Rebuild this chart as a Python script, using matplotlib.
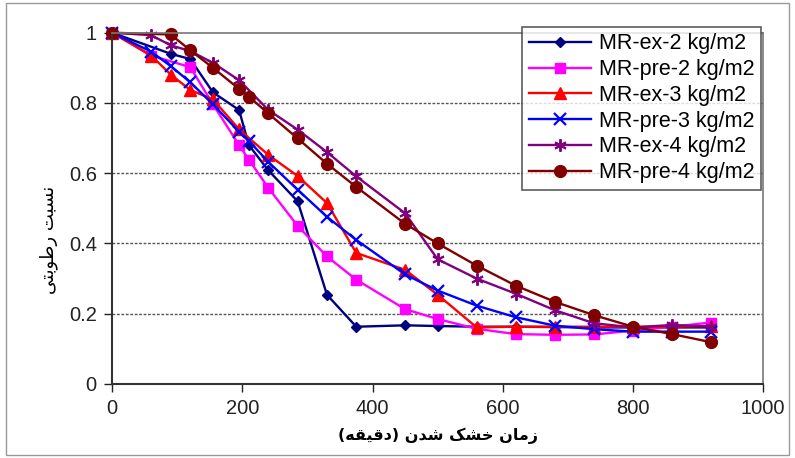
import matplotlib
matplotlib.use("Agg")
import matplotlib.pyplot as plt
from matplotlib.patches import Rectangle

# ---------------- data ----------------
t_ex2 = [0, 90, 120, 155, 195, 210, 240, 285, 330, 375, 450, 500, 560, 620, 680, 740, 800, 860, 920]
mr_ex2 = [1.0, 0.94, 0.925, 0.83, 0.78, 0.68, 0.608, 0.52, 0.254, 0.163, 0.167, 0.165, 0.163, 0.163, 0.162, 0.161, 0.161, 0.161, 0.161]

t_pre2 = [0, 60, 120, 155, 195, 210, 240, 285, 330, 375, 450, 500, 560, 620, 680, 740, 800, 860, 920]
mr_pre2 = [1.0, 0.935, 0.902, 0.796, 0.68, 0.639, 0.558, 0.45, 0.363, 0.297, 0.213, 0.185, 0.157, 0.142, 0.14, 0.141, 0.152, 0.163, 0.175]

t_ex3 = [0, 60, 90, 120, 155, 195, 240, 285, 330, 375, 450, 500, 560, 620, 680, 740, 800, 860, 920]
mr_ex3 = [1.0, 0.935, 0.881, 0.837, 0.81, 0.725, 0.652, 0.592, 0.515, 0.373, 0.325, 0.254, 0.161, 0.163, 0.163, 0.163, 0.163, 0.163, 0.165]

t_pre3 = [0, 60, 90, 120, 155, 195, 210, 240, 285, 330, 375, 450, 500, 560, 620, 680, 740, 800, 860, 920]
mr_pre3 = [1.0, 0.946, 0.905, 0.859, 0.796, 0.718, 0.692, 0.632, 0.553, 0.476, 0.41, 0.312, 0.266, 0.223, 0.19, 0.166, 0.156, 0.149, 0.149, 0.149]

t_ex4 = [0, 60, 90, 120, 155, 195, 240, 285, 330, 375, 450, 500, 560, 620, 680, 740, 800, 860, 920]
mr_ex4 = [1.0, 0.993, 0.964, 0.948, 0.914, 0.865, 0.78, 0.724, 0.66, 0.591, 0.486, 0.355, 0.3, 0.257, 0.21, 0.173, 0.161, 0.168, 0.163]

t_pre4 = [0, 90, 120, 155, 195, 210, 240, 285, 330, 375, 450, 500, 560, 620, 680, 740, 800, 860, 920]
mr_pre4 = [1.0, 0.995, 0.95, 0.9, 0.84, 0.818, 0.77, 0.699, 0.627, 0.561, 0.456, 0.4, 0.337, 0.28, 0.234, 0.196, 0.163, 0.142, 0.119]

series_labels = ["MR-ex-2 kg/m2", "MR-pre-2 kg/m2", "MR-ex-3 kg/m2",
                 "MR-pre-3 kg/m2", "MR-ex-4 kg/m2", "MR-pre-4 kg/m2"]
x_ticks = [0, 200, 400, 600, 800, 1000]
y_ticks = [0, 0.2, 0.4, 0.6, 0.8, 1.0]
y_tick_labels = ["0", "0.2", "0.4", "0.6", "0.8", "1"]
x_label = "زمان خشک شدن (دقیقه)"
y_label = "نسبت رطوبتی"

# ---------------- simple Persian shaping (presentation forms, visual order) ----------------
FORMS = {  # isolated, final, initial, medial
    "\u0627": ("\uFE8D", "\uFE8E", None, None),
    "\u0628": ("\uFE8F", "\uFE90", "\uFE91", "\uFE92"),
    "\u062A": ("\uFE95", "\uFE96", "\uFE97", "\uFE98"),
    "\u062E": ("\uFEA5", "\uFEA6", "\uFEA7", "\uFEA8"),
    "\u062F": ("\uFEA9", "\uFEAA", None, None),
    "\u0631": ("\uFEAD", "\uFEAE", None, None),
    "\u0632": ("\uFEAF", "\uFEB0", None, None),
    "\u0633": ("\uFEB1", "\uFEB2", "\uFEB3", "\uFEB4"),
    "\u0634": ("\uFEB5", "\uFEB6", "\uFEB7", "\uFEB8"),
    "\u0637": ("\uFEC1", "\uFEC2", "\uFEC3", "\uFEC4"),
    "\u0642": ("\uFED5", "\uFED6", "\uFED7", "\uFED8"),
    "\u0645": ("\uFEE1", "\uFEE2", "\uFEE3", "\uFEE4"),
    "\u0646": ("\uFEE5", "\uFEE6", "\uFEE7", "\uFEE8"),
    "\u0647": ("\uFEE9", "\uFEEA", "\uFEEB", "\uFEEC"),
    "\u0648": ("\uFEED", "\uFEEE", None, None),
    "\u06A9": ("\uFB8E", "\uFB8F", "\uFB90", "\uFB91"),
    "\u06CC": ("\uFBFC", "\uFBFD", "\uFBFE", "\uFBFF"),
}


def shape(text):
    out = []
    n = len(text)
    for i, ch in enumerate(text):
        if ch not in FORMS:
            out.append(ch)
            continue
        prev = text[i - 1] if i > 0 else None
        nxt = text[i + 1] if i < n - 1 else None
        join_prev = prev in FORMS and FORMS[prev][2] is not None
        join_next = nxt in FORMS and FORMS[ch][2] is not None
        iso, fin, ini, med = FORMS[ch]
        if join_prev and join_next:
            out.append(med)
        elif join_prev:
            out.append(fin)
        elif join_next:
            out.append(ini)
        else:
            out.append(iso)
    vis = "".join(reversed(out))
    return vis.translate(str.maketrans({"(": ")", ")": "("}))


# ---------------- figure ----------------
plt.rcParams["font.family"] = ["Liberation Sans", "DejaVu Sans"]
fig = plt.figure(figsize=(7.95, 4.58), dpi=100)
ax = fig.add_axes([0.141, 0.1616, 0.819, 0.767])

styles = [
    dict(color="#000080", marker="D", ms=5.5),
    dict(color="#FF00FF", marker="s", ms=7.5),
    dict(color="#FF0000", marker="^", ms=8),
    dict(color="#0000FF", marker="x", ms=8, mew=1.6),
    dict(color="#800080", marker=(6, 2, 0), ms=9, mew=1.4),
    dict(color="#800000", marker="o", ms=8.5),
]
data = [(t_ex2, mr_ex2), (t_pre2, mr_pre2), (t_ex3, mr_ex3),
        (t_pre3, mr_pre3), (t_ex4, mr_ex4), (t_pre4, mr_pre4)]
for (t, v), lab, st in zip(data, series_labels, styles):
    ax.plot(t, v, lw=1.7, label=lab, clip_on=False, **st)

ax.set_xlim(0, 1000)
ax.set_ylim(0, 1)
ax.set_xticks(x_ticks)
ax.set_yticks(y_ticks)
ax.set_yticklabels(y_tick_labels)
ax.tick_params(labelsize=14.5, direction="out", length=6, width=1, colors="#222222")
ax.tick_params(axis="y", pad=5)
ax.tick_params(axis="x", pad=5)
for yv in y_ticks[1:-1]:
    ax.axhline(yv, color="#555555", lw=1, ls=(0, (2, 1.2)), zorder=0)

for s in ("left", "bottom"):
    ax.spines[s].set_color("#333333")
    ax.spines[s].set_linewidth(1.5)
for s in ("top", "right"):
    ax.spines[s].set_color("#777777")
    ax.spines[s].set_linewidth(1.2)

ax.set_xlabel(shape(x_label), family=["DejaVu Sans"], fontsize=11.5, fontweight="bold", labelpad=7)
ax.set_ylabel(shape(y_label), family=["DejaVu Sans"], fontsize=13)
ax.yaxis.set_label_coords(-0.083, 0.41)

leg = ax.legend(loc="upper left", bbox_to_anchor=(0.657, 0.941), bbox_transform=fig.transFigure,
                fontsize=15.5, frameon=True, fancybox=False, edgecolor="#333333",
                handlelength=2.9, labelspacing=0.22, borderpad=0.3, handletextpad=0.35,
                borderaxespad=0)
leg.get_frame().set_linewidth(1.2)

fig.patches.append(Rectangle((0.008, 0.006), 0.985, 0.988, transform=fig.transFigure,
                             fill=False, edgecolor="#999999", lw=1))

fig.savefig("out.png", dpi=100)
